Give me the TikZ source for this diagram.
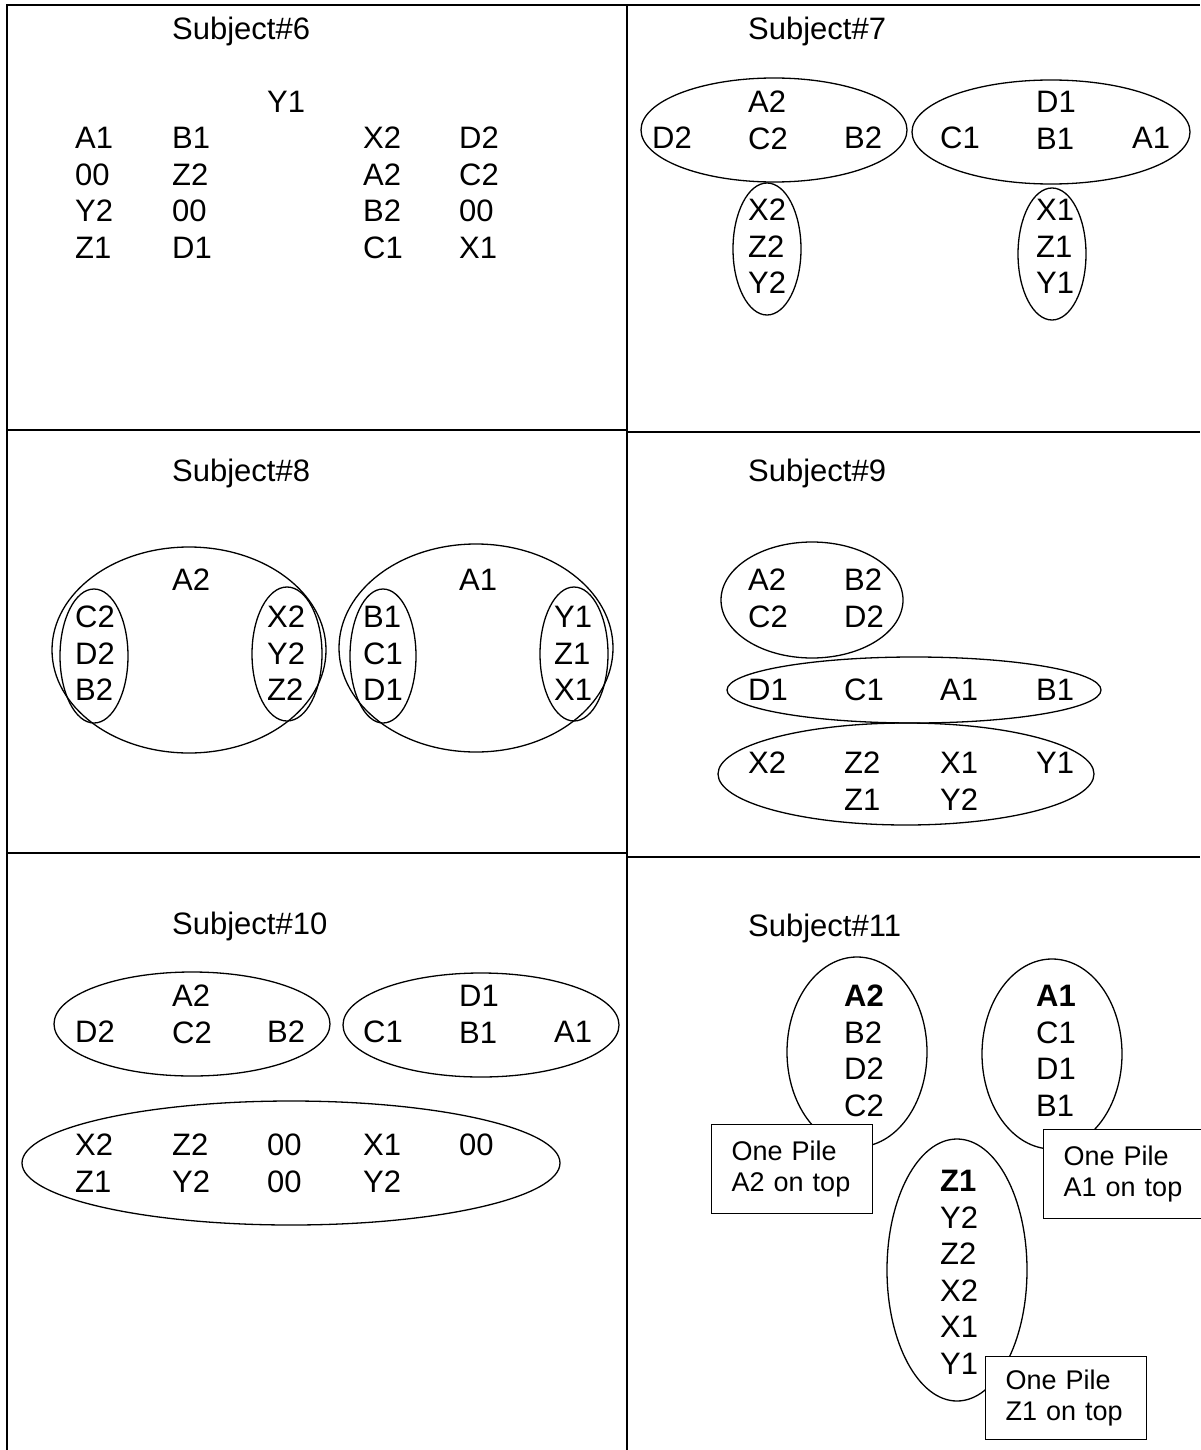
\documentclass[tikz,border=0pt]{standalone}
\usepackage{fontspec}
\setmainfont{Liberation Sans}
\usetikzlibrary{shapes.geometric}

\newcommand{\cellfont}{\fontsize{31}{36.5}\selectfont}
\newcommand{\notefont}{\fontsize{27}{31}\selectfont}

\begin{document}
\begin{tikzpicture}[
  x=1pt, y=-1pt,
  grid/.style={line width=2.4pt},
  lbl/.style={inner sep=0pt, anchor=north west, align=left, font=\cellfont},
  pile/.style n args={2}{draw, ellipse, inner sep=0pt, line width=1.3pt,
    minimum width=#1pt, minimum height=#2pt},
  note/.style={draw, fill=white, line width=1.4pt, anchor=north west, align=left,
    font=\notefont, inner xsep=20pt, text width=121pt, minimum height=89pt}
]
  \useasboundingbox (0,0) rectangle (1200,1450);

  % panel grid
  \draw[grid] (7,1450) -- (7,5) -- (1200,5);
  \draw[grid] (627,5) -- (627,1450);
  \draw[grid] (7,430) -- (627,430);
  \draw[grid] (7,853) -- (627,853);
  \draw[grid] (627,432) -- (1200,432);
  \draw[grid] (627,857) -- (1200,857);

  % Subject 6
  \node[lbl] (t6) at (172,17) {Subject\#6};
  \node[lbl] (s6y) at (267,91) {Y1};
  \node[lbl] (s6a) at (75,127) {A1\\00\\Y2\\Z1};
  \node[lbl] (s6b) at (172,127) {B1\\Z2\\00\\D1};
  \node[lbl] (s6c) at (363,127) {X2\\A2\\B2\\C1};
  \node[lbl] (s6d) at (459,127) {D2\\C2\\00\\X1};

  % Subject 7
  \node[lbl] (t7) at (748,17) {Subject\#7};
  \node[pile={266}{104}] (p7a) at (774,130) {};
  \node[pile={278}{104}] (p7b) at (1051,132) {};
  \node[pile={68}{132}] (p7c) at (767,249) {};
  \node[pile={68}{132}] (p7d) at (1052,254) {};
  \node[lbl] (s7d2) at (652,127) {D2};
  \node[lbl] (s7c2) at (748,91) {A2\\C2};
  \node[lbl] (s7b2) at (844,127) {B2};
  \node[lbl] (s7c1) at (940,127) {C1};
  \node[lbl] (s7b1) at (1036,91) {D1\\B1};
  \node[lbl] (s7a1) at (1132,127) {A1};
  \node[lbl] (s7x2) at (748,199) {X2\\Z2\\Y2};
  \node[lbl] (s7x1) at (1036,199) {X1\\Z1\\Y1};

  % Subject 8
  \node[lbl] (t8) at (172,459) {Subject\#8};
  \node[pile={274}{206}] (p8a) at (189,650) {};
  \node[pile={274}{208}] (p8b) at (476,648) {};
  \node[pile={68}{134}] (p8c) at (94,656) {};
  \node[pile={70}{134}] (p8d) at (287,654) {};
  \node[pile={66}{134}] (p8e) at (383,656) {};
  \node[pile={68}{134}] (p8f) at (574,654) {};
  \node[lbl] (s8a2) at (172,569) {A2};
  \node[lbl] (s8a1) at (459,569) {A1};
  \node[lbl] (s8c2) at (75,606) {C2\\D2\\B2};
  \node[lbl] (s8x2) at (267,606) {X2\\Y2\\Z2};
  \node[lbl] (s8b1) at (363,606) {B1\\C1\\D1};
  \node[lbl] (s8y1) at (554,606) {Y1\\Z1\\X1};

  % Subject 9
  \node[lbl] (t9) at (748,459) {Subject\#9};
  \node[pile={182}{116}] (p9a) at (812,600) {};
  \node[pile={374}{66}] (p9b) at (914,690) {};
  \node[pile={376}{102}] (p9c) at (906,774) {};
  \node[lbl] (s9a2) at (748,569) {A2\\C2};
  \node[lbl] (s9b2) at (844,569) {B2\\D2};
  \node[lbl] (s9d1) at (748,679) {D1};
  \node[lbl] (s9c1) at (844,679) {C1};
  \node[lbl] (s9a1) at (940,679) {A1};
  \node[lbl] (s9b1) at (1036,679) {B1};
  \node[lbl] (s9x2) at (748,752) {X2};
  \node[lbl] (s9z2) at (844,752) {Z2\\Z1};
  \node[lbl] (s9x1) at (940,752) {X1\\Y2};
  \node[lbl] (s9y1) at (1036,752) {Y1};

  % Subject 10
  \node[lbl] (t10) at (172,912) {Subject\#10};
  \node[pile={276}{104}] (p10a) at (192,1024) {};
  \node[pile={276}{104}] (p10b) at (481,1025) {};
  \node[pile={538}{124}] (p10c) at (291,1163) {};
  \node[lbl] (s10d2) at (75,1021) {D2};
  \node[lbl] (s10c2) at (172,985) {A2\\C2};
  \node[lbl] (s10b2) at (267,1021) {B2};
  \node[lbl] (s10c1) at (363,1021) {C1};
  \node[lbl] (s10b1) at (459,985) {D1\\B1};
  \node[lbl] (s10a1) at (554,1021) {A1};
  \node[lbl] (s10x2) at (75,1134) {X2\\Z1};
  \node[lbl] (s10z2) at (172,1134) {Z2\\Y2};
  \node[lbl] (s10o1) at (267,1134) {00\\00};
  \node[lbl] (s10x1) at (363,1134) {X1\\Y2};
  \node[lbl] (s10o2) at (459,1134) {00};

  % Subject 11
  \node[lbl] (t11) at (748,914) {Subject\#11};
  \node[pile={140}{190}] (p11a) at (857,1052) {};
  \node[pile={140}{190}] (p11b) at (1052,1054) {};
  \node[pile={140}{262}] (p11c) at (957,1270) {};
  \node[lbl] (s11a2) at (844,985) {\bfseries A2\\B2\\D2\\C2};
  \node[lbl] (s11a1) at (1036,985) {\bfseries A1\\C1\\D1\\B1};
  \node[lbl] (s11z1) at (940,1170) {\bfseries Z1\\Y2\\Z2\\X2\\X1\\Y1};
  \node[note] (n11a) at (711,1124) {One Pile\\A2 on top};
  \node[note] (n11b) at (1043,1129) {One Pile\\A1 on top};
  \node[note, minimum height=83pt] (n11c) at (985,1356) {One Pile\\Z1 on top};
\end{tikzpicture}
\end{document}
